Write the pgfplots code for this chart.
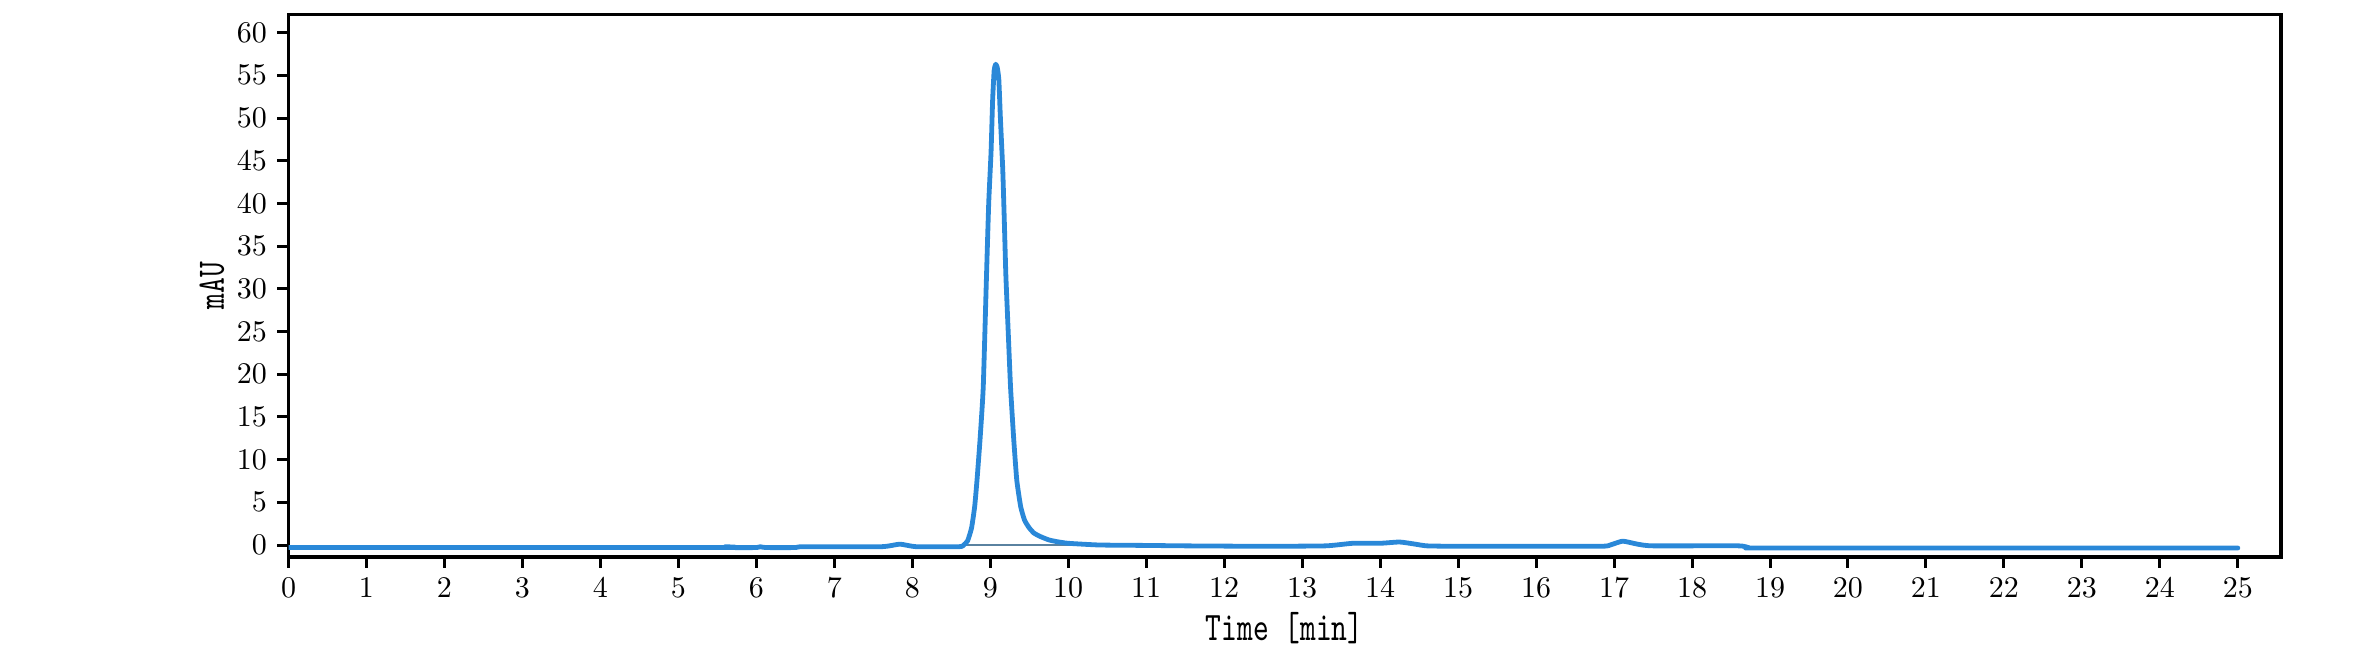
\documentclass[border=0pt]{standalone}
\usepackage{graphicx}
\usepackage{pgfplots}
\pgfplotsset{compat=1.18}
\definecolor{trace}{RGB}{42,136,216}
\definecolor{thinbl}{RGB}{90,130,160}
\begin{document}
\begin{tikzpicture}
\begin{axis}[
  scale only axis,
  width=664.07pt, height=180.67pt,
  xmin=0, xmax=25.55, ymin=-1.37, ymax=62.1,
  xtick={0,1,...,25}, ytick={0,5,...,60},
  tick align=outside, tick pos=left,
  major tick length=3.7pt,
  every tick/.style={black, line width=1pt},
  axis line style={line width=1.2pt},
  xlabel={\scalebox{1}[1.35]{\ttfamily Time [min]}},
  ylabel={\scalebox{1}[1.3]{\ttfamily mAU}},
  xlabel style={at={(rel axis cs:0.5,0)}, anchor=center, yshift=-23.8pt},
  ylabel style={at={(rel axis cs:0,0.5)}, anchor=center, yshift=25.5pt},
  clip=true,
]
\addplot[thinbl, line width=0.4pt] coordinates {(8.68,0) (10.5,0)};
\addplot[trace, line width=1.6pt, line join=round, line cap=round, smooth, tension=0.3] coordinates {
(0,-0.3) (5.5,-0.3) (5.6,-0.2) (5.68,-0.3) (6.0,-0.3) (6.05,-0.2) (6.12,-0.3)
(6.5,-0.3) (6.6,-0.2) (7.6,-0.2) (7.84,0.1) (8.05,-0.2) (8.6,-0.2)
(8.66,0.0) (8.71,0.5) (8.76,2.0) (8.80,4.5) (8.83,7.6) (8.87,12.5) (8.91,18.5)
(8.95,31) (8.98,40) (9.01,46) (9.03,52) (9.05,55.6) (9.07,56.3) (9.09,55.9)
(9.11,54.5) (9.13,50) (9.16,44) (9.18,38) (9.20,31.6) (9.23,25) (9.26,18.5)
(9.30,12.5) (9.34,7.6) (9.39,4.5) (9.44,2.9) (9.50,2.0) (9.56,1.4) (9.64,1.0)
(9.75,0.6) (9.85,0.4) (10.0,0.2) (10.4,0.0) (11.0,-0.05) (11.5,-0.1) (12.5,-0.15)
(13.3,-0.1) (13.65,0.2) (14.0,0.2) (14.25,0.35) (14.45,0.1) (14.6,-0.1) (15.0,-0.15)
(16.8,-0.15) (16.95,0.0) (17.11,0.45) (17.3,0.1) (17.5,-0.1) (18.6,-0.1) (18.74,-0.35)
(19.0,-0.35) (25.0,-0.35)
};
\end{axis}
\pgfresetboundingbox
\path ([shift={(-96.17pt,-31.1pt)}]current axis.south west) rectangle ([shift={(30.43pt,4.9pt)}]current axis.north east);
\end{tikzpicture}
\end{document}
